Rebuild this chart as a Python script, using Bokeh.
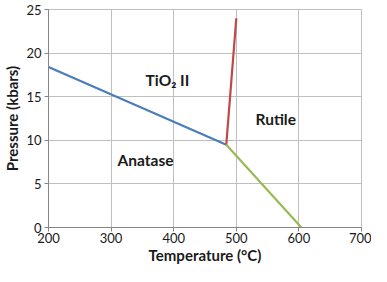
from bokeh.plotting import figure
from bokeh.models import Range1d, FixedTicker
from bokeh.core.properties import value
from bokeh.embed import file_html
from bokeh.resources import INLINE

# Phase boundaries (Temperature °C, Pressure kbars)
anatase_tio2_T = [200, 484]
anatase_tio2_P = [18.4, 9.5]
tio2_rutile_T = [484, 500]
tio2_rutile_P = [9.5, 24.0]
anatase_rutile_T = [484, 604]
anatase_rutile_P = [9.5, 0.0]

label_text = ["TiO\u2082 II", "Rutile", "Anatase"]
label_T = [390, 563, 355]
label_P = [16.9, 12.5, 7.7]

x_ticks = [200, 300, 400, 500, 600, 700]
y_ticks = [0, 5, 10, 15, 20, 25]

FONT = "Lato"

p = figure(width=371, height=266, output_backend="svg", toolbar_location=None,
           x_range=Range1d(200, 700), y_range=Range1d(0, 25),
           min_border_left=30, min_border_right=10, min_border_top=9, min_border_bottom=30)

p.line(anatase_tio2_T, anatase_tio2_P, line_color="#4a7ebb", line_width=2.2)
p.line(tio2_rutile_T, tio2_rutile_P, line_color="#be4b48", line_width=2.2)
p.line(anatase_rutile_T, anatase_rutile_P, line_color="#98b954", line_width=2.2)

p.text(label_T, label_P, text=label_text, text_align="center", text_baseline="middle",
       text_font=value(FONT), text_font_size="15.5px", text_font_style="bold", text_color="#1a1a1a")

p.xaxis.ticker = FixedTicker(ticks=x_ticks)
p.yaxis.ticker = FixedTicker(ticks=y_ticks)
p.xaxis.axis_label = "Temperature (\u00b0C)"
p.yaxis.axis_label = "Pressure (kbars)"

for ax in (p.xaxis, p.yaxis):
    ax.axis_label_text_font = FONT
    ax.axis_label_text_font_size = "15px"
    ax.axis_label_text_font_style = "bold"
    ax.axis_label_text_color = "#1a1a1a"
    ax.major_label_text_font = FONT
    ax.major_label_text_font_size = "13px"
    ax.major_label_text_color = "#1a1a1a"
    ax.axis_line_color = "#868686"
    ax.major_tick_line_color = "#868686"
    ax.major_tick_in = 0
    ax.major_tick_out = 4
    ax.minor_tick_line_color = None

p.xaxis.axis_label_standoff = 0
p.yaxis.axis_label_standoff = 2
p.xaxis.major_label_standoff = 1
p.yaxis.major_label_standoff = 3

p.xgrid.grid_line_color = "#bfbfbf"
p.ygrid.grid_line_color = "#bfbfbf"
p.outline_line_color = "#bfbfbf"
p.background_fill_color = "white"
p.border_fill_color = "white"

open("out.html", "w").write(file_html(p, INLINE))
